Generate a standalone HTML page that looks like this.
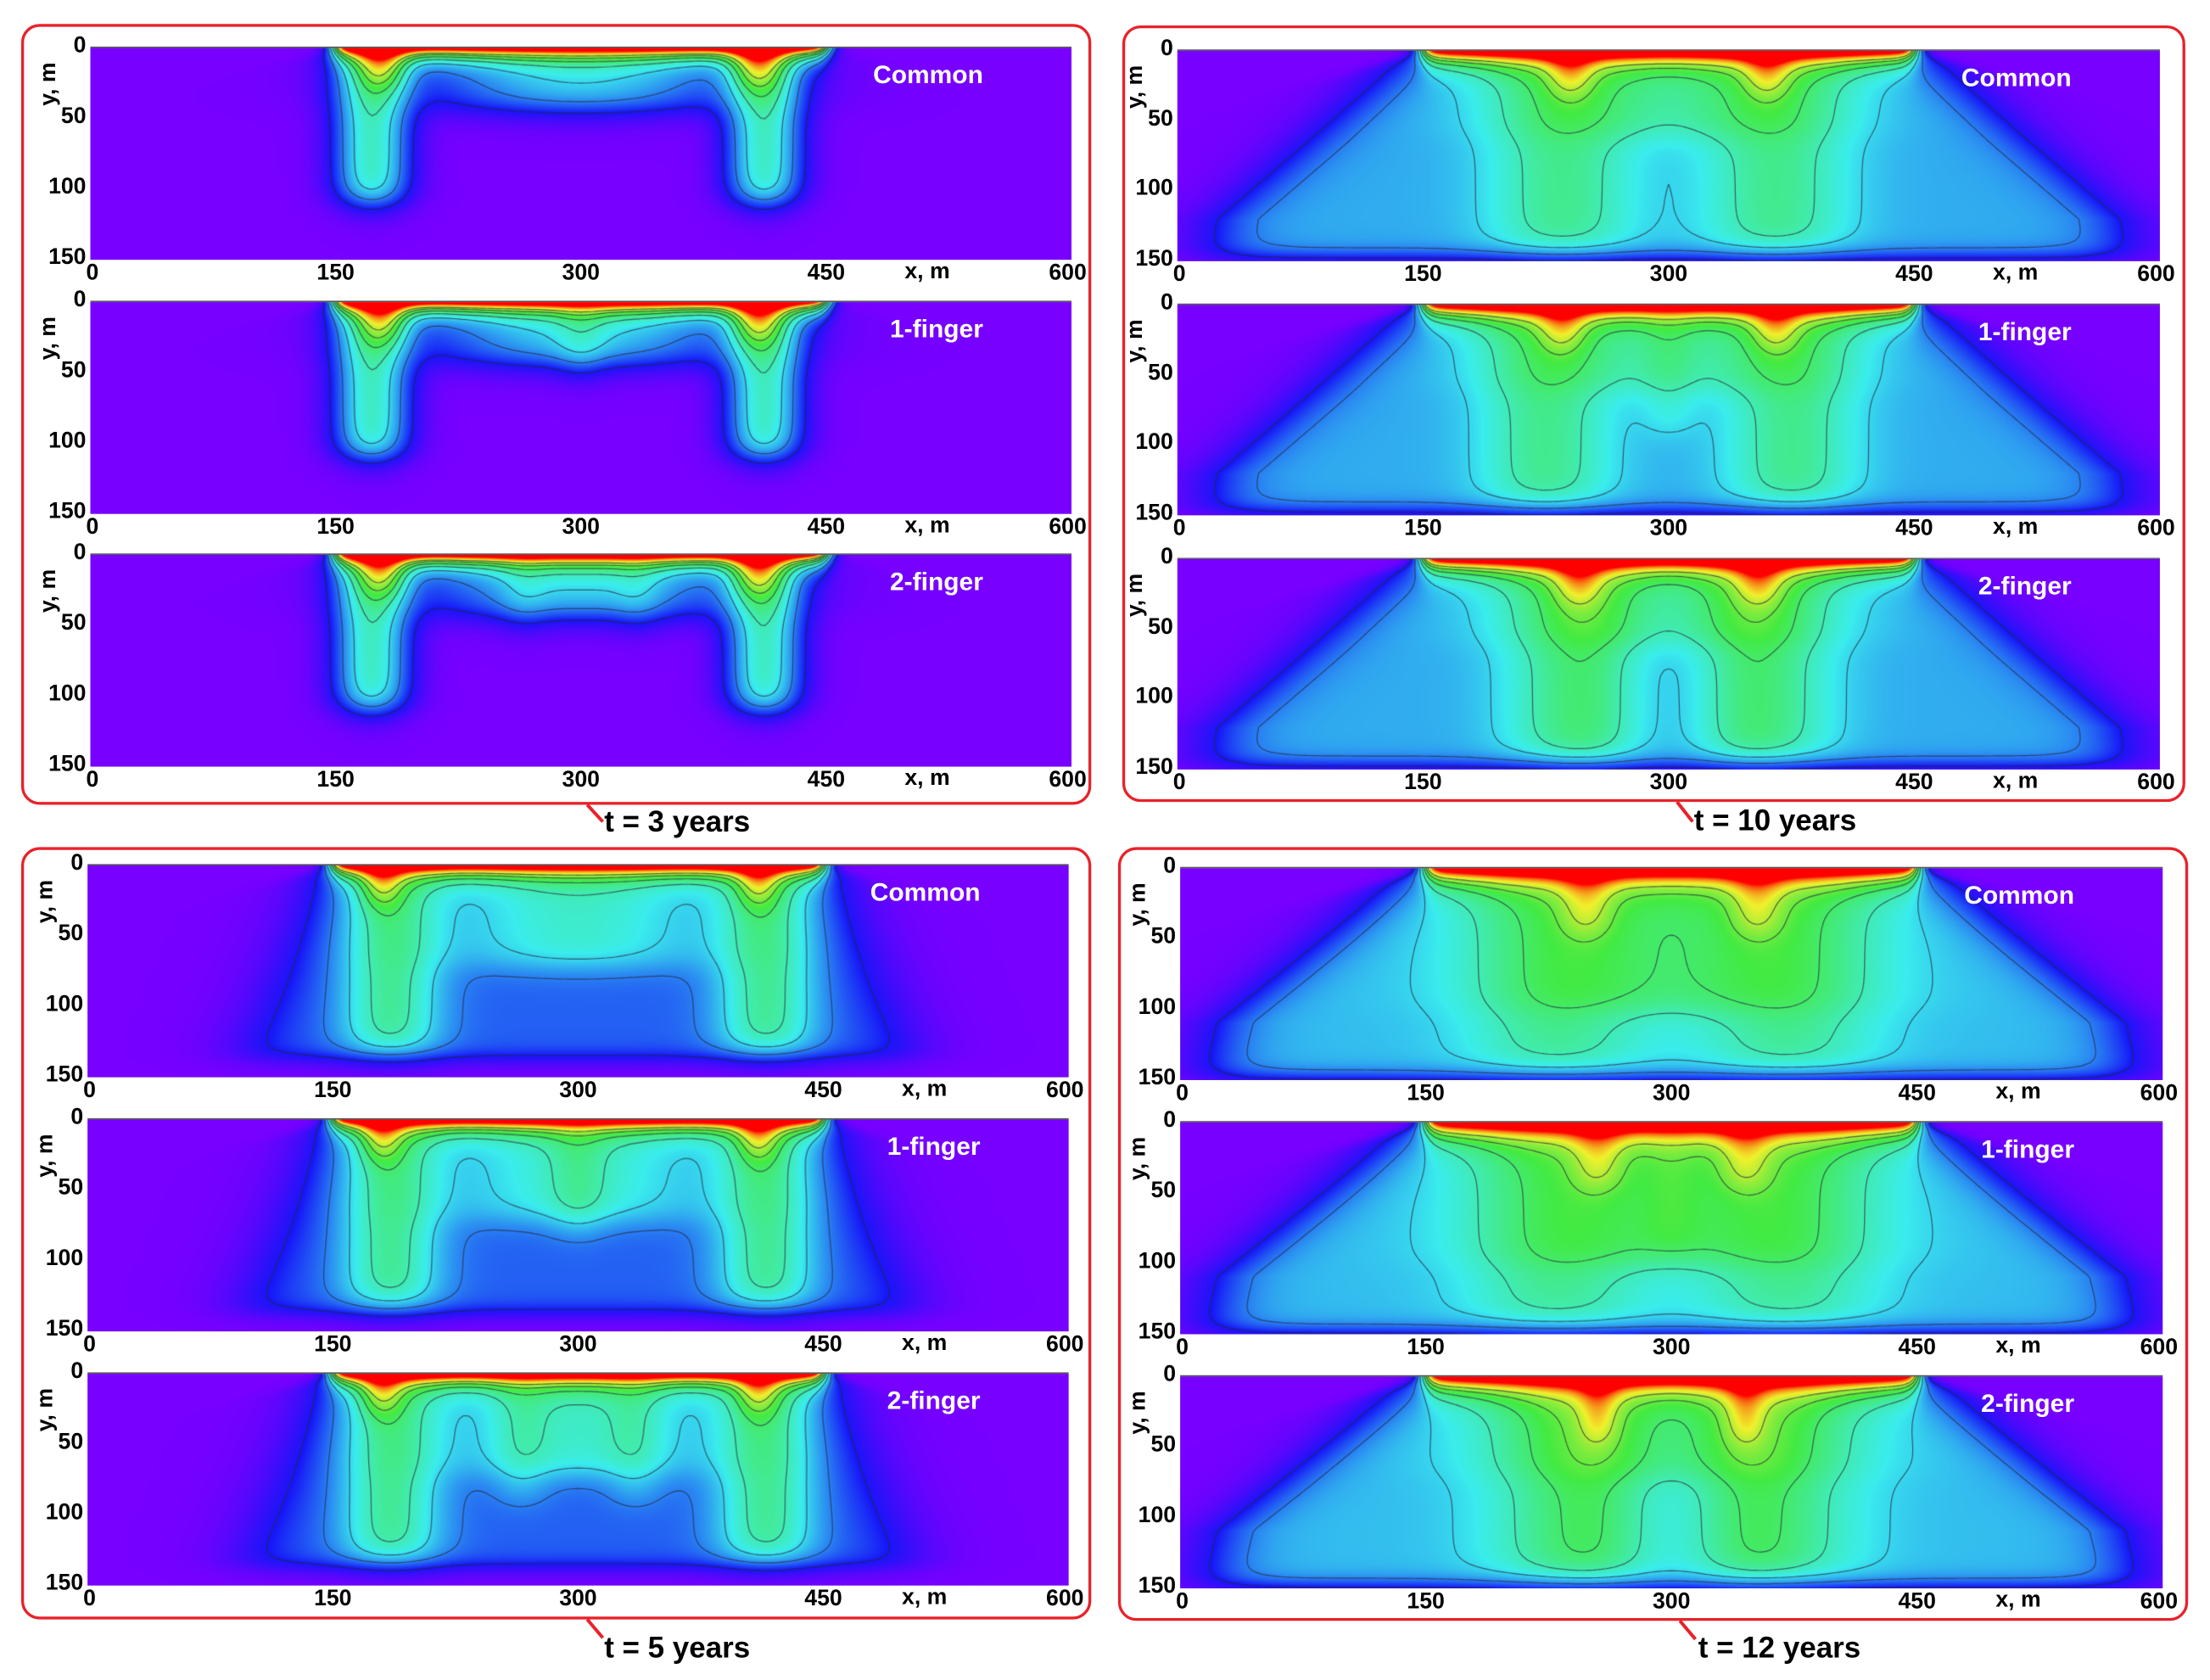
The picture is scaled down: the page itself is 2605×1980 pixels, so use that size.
<!DOCTYPE html>
<html><head><meta charset="utf-8"><style>
html,body{margin:0;padding:0;background:#fff;}
#root{position:absolute;left:0;top:0;width:1565.5px;height:1189.3px;transform:scale(1.664);transform-origin:0 0;font-family:"Liberation Sans Narrow","Liberation Sans",sans-serif;font-weight:bold;color:#000;}
.box{position:absolute;border:2.4px solid #e8222a;border-radius:13px;box-sizing:border-box;}
.plot{position:absolute;}
.plot canvas{position:absolute;left:0;top:0;}
.t{position:absolute;font-size:16px;line-height:16px;white-space:nowrap;}
.ylab{position:absolute;font-size:16px;transform:rotate(-90deg);transform-origin:0 0;white-space:nowrap;}
.pl{position:absolute;color:#fff;font-size:18px;font-family:"Liberation Sans",sans-serif;font-weight:bold;}
.cap{position:absolute;font-size:21px;font-family:"Liberation Sans",sans-serif;font-weight:bold;white-space:nowrap;}
</style></head><body>
<div id="root">
<svg style="position:absolute;left:0;top:0" width="1566" height="1190">
<path d="M416 570 L427 582" stroke="#e8222a" stroke-width="2.4" fill="none"/>
<path d="M1188 568 L1199 582" stroke="#e8222a" stroke-width="2.4" fill="none"/>
<path d="M416 1147 L427 1160" stroke="#e8222a" stroke-width="2.4" fill="none"/>
<path d="M1190 1148 L1201 1161" stroke="#e8222a" stroke-width="2.4" fill="none"/>
</svg>
</div>
<script>
const groupCaptions=["t = 3 years","t = 10 years","t = 5 years","t = 12 years"];
const panelNames=["Common","1-finger","2-finger"];
const xTicks=[0,150,300,450,600];
const yTicks=[0,50,100,150];
const contourLevels=[0.1,0.2,0.3,0.4,0.5,0.6,0.7];
// field parameters per group (t=3, t=10, t=5, t=12)
const srcDepth=[6,7,6,8];
const envAmp=[0,0.25,0.17,0.27];
const envSlope=[0,1.0,0.38,1.1];
const envDepth=[0,146,136,147];
// fingers: [xCenter, width, depth, amp]
const fingers=[
 [[[172,22,108,0.38],[412,22,108,0.38],[300,95,42,0.3],[178,14,25,0.35],[408,14,25,0.35]],
  [[172,22,108,0.38],[412,22,108,0.38],[300,95,42,0.3],[300,15,50,0.08],[178,14,25,0.35],[408,14,25,0.35]],
  [[172,22,108,0.38],[412,22,108,0.38],[300,95,42,0.3],[265,15,50,0.06],[335,15,50,0.06],[178,14,25,0.35],[408,14,25,0.35]]],
 [[[235,45,140,0.2],[365,45,140,0.2],[300,100,60,0.13],[240,14,30,0.25],[360,14,30,0.25]],
  [[225,40,140,0.2],[375,40,140,0.2],[300,100,60,0.13],[300,18,90,0.08],[235,14,30,0.25],[365,14,30,0.25]],
  [[235,40,140,0.16],[365,40,140,0.16],[300,100,60,0.13],[255,30,140,0.1],[345,30,140,0.1],[245,14,30,0.25],[355,14,30,0.25]]],
 [[[185,30,130,0.27],[415,30,130,0.27],[300,80,70,0.2],[180,12,25,0.3],[410,12,25,0.3]],
  [[185,30,130,0.27],[415,30,130,0.27],[300,80,70,0.2],[300,18,80,0.08],[180,12,25,0.3],[410,12,25,0.3]],
  [[185,30,130,0.27],[415,30,130,0.27],[300,80,70,0.2],[265,18,90,0.08],[335,18,90,0.08],[180,12,25,0.3],[410,12,25,0.3]]],
 [[[230,55,140,0.17],[370,55,140,0.17],[300,110,100,0.16],[248,16,45,0.2],[352,16,45,0.2]],
  [[230,55,140,0.17],[370,55,140,0.17],[300,110,100,0.16],[300,20,90,0.07],[255,16,45,0.2],[345,16,45,0.2]],
  [[230,50,140,0.15],[370,50,140,0.15],[300,110,70,0.12],[255,35,140,0.12],[345,35,140,0.12],[255,12,45,0.2],[345,12,45,0.2]]]
];
const geom=[
 {bx:15,by:17,bw:758,bh:553,px:64,pw:695,ys:[33,213,392],ph:150,cx:428,cy:571},
 {bx:795,by:18,bw:753,bh:550,px:834,pw:696,ys:[35,215,395],ph:149,cx:1200,cy:570},
 {bx:15,by:600,bw:758,bh:547,px:62,pw:695,ys:[612,792,972],ph:150,cx:428,cy:1156},
 {bx:792,by:600,bw:758,bh:548,px:836,pw:696,ys:[614,794,974],ph:150,cx:1203,cy:1156}
];
function sig(v){return 1/(1+Math.exp(-v));}
function field(g,v,x,y){
  const ax=Math.abs(x-300);
  const mask=sig((150-ax+y*3)/5);
  let c=sig((150-ax)/3)*Math.exp(-y/srcDepth[g]);
  if(envAmp[g]>0){
    const hw=150+envSlope[g]*y;
    const hwc=hw-Math.max(0,hw-270)*0.8;
    c+=envAmp[g]*sig((hwc-ax)/14)*sig((envDepth[g]-y)/4)*mask;
  }
  for(const f of fingers[g][v]){
    const d=(x-f[0])/f[1];
    c+=f[3]*Math.exp(-d*d)*sig((f[2]-y)/6)*mask;
  }
  return Math.max(0,Math.min(1,c));
}
function hsl2rgb(h,s,l){s/=100;l/=100;const k=n=>(n+h/30)%12;const a=s*Math.min(l,1-l);
  const f=n=>l-a*Math.max(-1,Math.min(k(n)-3,Math.min(9-k(n),1)));return [255*f(0),255*f(8),255*f(4)];}
function colorOf(c){
  const h=268*(1-c);
  return hsl2rgb(h,100-20*Math.sin(Math.PI*c),50+9*Math.sin(Math.PI*c));
}
const root=document.getElementById('root');
geom.forEach((G,g)=>{
  const box=document.createElement('div');box.className='box';
  
  
  box.style.cssText=`left:${G.bx}px;top:${G.by}px;width:${G.bw}px;height:${G.bh}px`;
  root.appendChild(box);
  const cap=document.createElement('div');cap.className='cap';cap.textContent=groupCaptions[g];
  
  
  cap.style.left=G.cx+'px';cap.style.top=G.cy+'px';root.appendChild(cap);
  G.ys.forEach((py,v)=>{
    const pd=document.createElement('div');pd.className='plot';
    
    
    pd.style.cssText=`left:${G.px}px;top:${py}px;width:${G.pw}px;height:${G.ph}px;border-top:1px solid #555`;
    const cv=document.createElement('canvas');
    
    
    const W=Math.round(G.pw*1.664),H=Math.round(G.ph*1.664);
    cv.width=W;cv.height=H;cv.style.width=G.pw+'px';cv.style.height=G.ph+'px';
    pd.appendChild(cv);
    const ctx=cv.getContext('2d');const img=ctx.createImageData(W,H);
    for(let j=0;j<H;j++){const y=j/H*150;for(let i=0;i<W;i++){const x=i/W*600;
      const rgb=colorOf(field(g,v,x,y));
      const o=(j*W+i)*4;img.data[o]=rgb[0];img.data[o+1]=rgb[1];img.data[o+2]=rgb[2];img.data[o+3]=255;}}
    ctx.putImageData(img,0,0);
    const NX=240,NY=60,F=[];
    for(let j=0;j<=NY;j++){F[j]=[];for(let i=0;i<=NX;i++)F[j][i]=field(g,v,i/NX*600,j/NY*150);}
    ctx.strokeStyle='rgba(40,40,60,0.7)';ctx.lineWidth=1.2;ctx.beginPath();
    const sx=W/NX,sy=H/NY;
    for(const L of contourLevels){
      for(let j=0;j<NY;j++)for(let i=0;i<NX;i++){
        const a=F[j][i],b=F[j][i+1],c=F[j+1][i+1],d=F[j+1][i];const pts=[];
        const e=(p,q,x1,y1,x2,y2)=>{if((p<L)!==(q<L)){const t=(L-p)/(q-p);pts.push([(x1+(x2-x1)*t)*sx,(y1+(y2-y1)*t)*sy]);}};
        e(a,b,i,j,i+1,j);e(b,c,i+1,j,i+1,j+1);e(d,c,i,j+1,i+1,j+1);e(a,d,i,j,i,j+1);
        if(pts.length>=2){ctx.moveTo(pts[0][0],pts[0][1]);ctx.lineTo(pts[1][0],pts[1][1]);}
        if(pts.length===4){ctx.moveTo(pts[2][0],pts[2][1]);ctx.lineTo(pts[3][0],pts[3][1]);}
      }
    }
    ctx.stroke();
    root.appendChild(pd);
    const nm=document.createElement('div');nm.className='pl';nm.textContent=panelNames[v];
    
    
    nm.style.left=(G.px+G.pw*0.91)+'px';nm.style.top=(py+10)+'px';nm.style.transform='translateX(-100%)';
    root.appendChild(nm);
    xTicks.forEach(t=>{
      const d=document.createElement('div');d.className='t';d.textContent=t;
      
      
      const xx=G.px+t/600*G.pw;d.style.top=(py+G.ph+3)+'px';
      if(t===0){d.style.left=(xx-3)+'px';}
      else if(t===600){d.style.left=(xx-16)+'px';}
      else{d.style.left=xx+'px';d.style.transform='translateX(-50%)';}
      root.appendChild(d);
    });
    const xl=document.createElement('div');xl.className='t';xl.textContent='x, m';
    
    
    xl.style.left=(G.px+G.pw*0.83)+'px';xl.style.top=(py+G.ph+2)+'px';root.appendChild(xl);
    yTicks.forEach(t=>{
      const d=document.createElement('div');d.className='t';d.textContent=t;
      
      
      d.style.right=(1565.5-G.px+3)+'px';d.style.top=(py+t/150*G.ph-8)+'px';
      root.appendChild(d);
    });
    const yl=document.createElement('div');yl.className='ylab';yl.textContent='y, m';
    
    
    yl.style.left=(G.px-38)+'px';yl.style.top=(py+42)+'px';root.appendChild(yl);
  });
});
</script>
</body></html>
